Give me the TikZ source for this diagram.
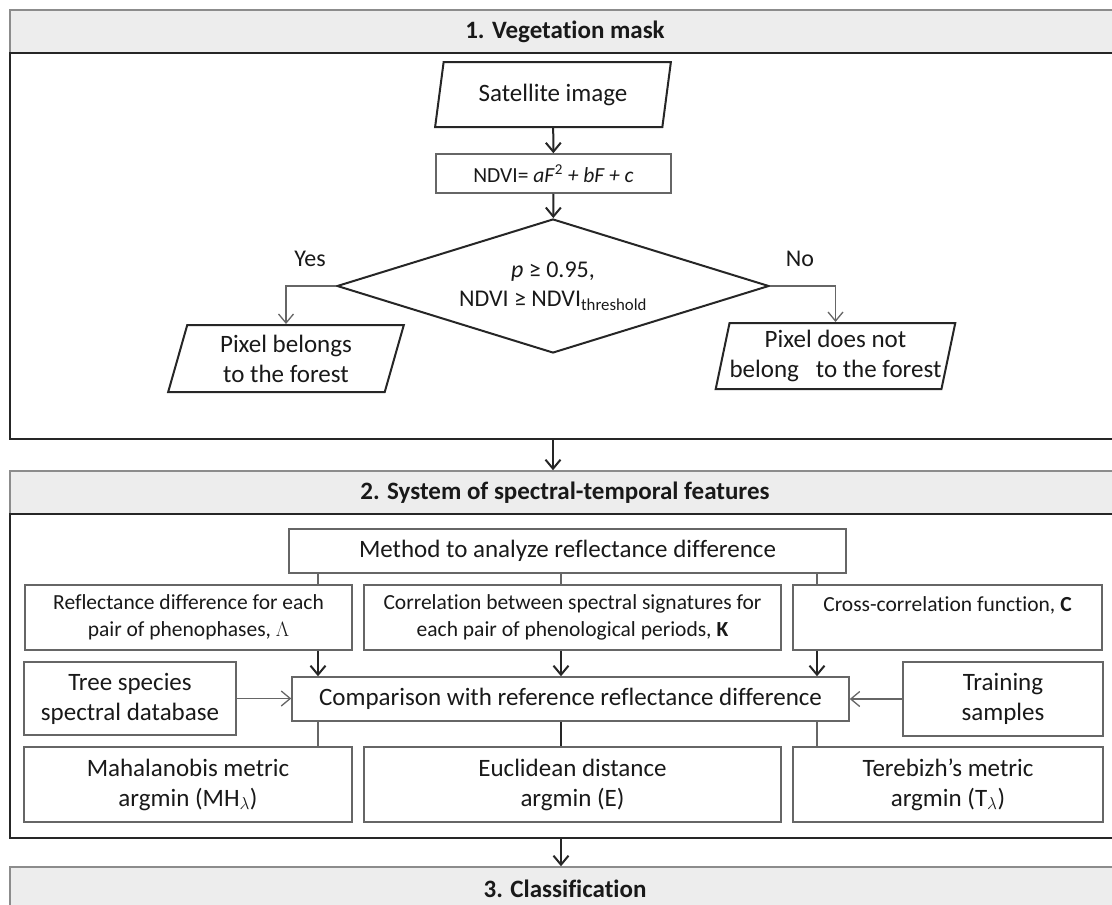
\documentclass[tikz,border=0pt]{standalone}
\usepackage{fontspec}
\setmainfont[Ligatures=NoCommon]{Carlito}
\usetikzlibrary{positioning, shapes.geometric, arrows, arrows.meta}

\begin{document}
\begin{tikzpicture}[x=1pt, y=-1pt,
    >={Straight Barb[length=9pt, width=15pt]},
    every node/.style={text=black!90},
    head/.style={draw=black!45, line width=1.5pt, fill=black!7, minimum width=1110pt, minimum height=43pt, inner sep=0pt, font=\fontsize{25}{30}\selectfont\bfseries},
    frame/.style={draw=black!85, line width=2pt, minimum width=1112pt, inner sep=0pt},
    box/.style={draw=black!60, line width=1.5pt, fill=white, align=center, inner sep=0pt, font=\fontsize{25}{30}\selectfont},
    smallbox/.style={box, font=\fontsize{21.5}{27}\selectfont},
    iobox/.style={box, draw=black!85, line width=2pt, trapezium, trapezium left angle=75, trapezium right angle=105, trapezium stretches=true},
    decision/.style={diamond, aspect=3.2, draw=black!85, line width=2pt, inner sep=0pt, align=center, font=\fontsize{24}{29}\selectfont},
    answer/.style={font=\fontsize{24}{29}\selectfont},
    flow/.style={draw=black!85, line width=2pt},
    feed/.style={draw=black!60, line width=1.3pt}
  ]
  \useasboundingbox (0, 0) rectangle (1112, 905);

  % 1. vegetation mask
  \node[head] (mask_head) at (565, 31.5) {1. Vegetation mask};
  \node[frame, minimum height=386pt] (mask_body) at (566, 246) {};

  \node[iobox, minimum width=236pt, minimum height=65pt] (sat) at (553, 94.5) {Satellite image};
  \node[smallbox, minimum width=235pt, minimum height=39pt] (ndvi) at (553.5, 173.5) {NDVI= \textit{aF}\textsuperscript{2} \textit{+ bF + c}};
  \node[decision, minimum width=432pt, minimum height=134pt] (cond) at (553, 286) {\textit{p} ≥ 0.95,\\ NDVI ≥ NDVI\textsubscript{threshold}};
  \node[answer] (yes) at (310, 259) {Yes};
  \node[answer] (no) at (800, 259) {No};
  \node[iobox, minimum width=236pt, minimum height=67pt] (forest) at (286, 358.5) {Pixel belongs\\ to the forest};
  \node[iobox, minimum width=235pt, minimum height=66pt] (nonforest) at (835.5, 356) {Pixel does not\\ belong\ \ \ to the forest};

  \draw[flow, ->] (sat) -- (ndvi);
  \draw[flow, ->] (ndvi) -- (cond);
  \draw[feed, ->] (cond.west) -| (forest.north);
  \draw[feed, ->] (cond.east) -| (nonforest.north);

  % 2. spectral-temporal features
  \node[head] (feat_head) at (565, 492.5) {2. System of spectral-temporal features};
  \node[frame, minimum height=324pt] (feat_body) at (566, 676) {};
  \draw[flow, ->] (mask_body.south -| cond.south) -- (feat_head.north -| cond.south);

  \coordinate (colA) at (318, 0);
  \coordinate (colB) at (561, 0);
  \coordinate (colC) at (817, 0);

  \node[box, minimum width=557pt, minimum height=44pt] (method) at (567.5, 551) {Method to analyze reflectance difference};
  \node[smallbox, minimum width=327pt, minimum height=65pt] (refl) at (188.5, 617.5) {Reflectance difference for each\\ pair of phenophases, $\Lambda$};
  \node[smallbox, minimum width=417pt, minimum height=65pt] (corr) at (572.5, 617.5) {Correlation between spectral signatures for\\ each pair of phenological periods, \textbf{K}};
  \node[smallbox, minimum width=309pt, minimum height=65pt] (cross) at (947.5, 617.5) {Cross-correlation function, \textbf{C}\\ \mbox{}};
  \node[box, minimum width=212pt, minimum height=73pt] (tree) at (130, 698.5) {Tree species\\ spectral database};
  \node[box, minimum width=557pt, minimum height=44pt] (compare) at (570.5, 699) {Comparison with reference reflectance difference};
  \node[box, minimum width=200pt, minimum height=74pt] (train) at (1003, 699) {Training\\ samples};
  \node[box, minimum width=328pt, minimum height=75pt] (mahal) at (188, 784.5) {Mahalanobis metric\\ argmin ($\mathrm{MH}_{\lambda}$)};
  \node[box, minimum width=417pt, minimum height=75pt] (euclid) at (572.5, 784.5) {Euclidean distance\\ argmin (E)};
  \node[box, minimum width=310pt, minimum height=75pt] (tereb) at (948, 784.5) {Terebizh’s metric\\ argmin ($\mathrm{T}_{\lambda}$)};

  \draw[feed] (method.south -| colA) -- (refl.north -| colA);
  \draw[feed] (method.south -| colB) -- (corr.north -| colB);
  \draw[feed] (method.south -| colC) -- (cross.north -| colC);
  \draw[flow, ->] (refl.south -| colA) -- (compare.north -| colA);
  \draw[flow, ->] (corr.south -| colB) -- (compare.north -| colB);
  \draw[flow, ->] (cross.south -| colC) -- (compare.north -| colC);
  \draw[feed, ->] (tree.east) -- (tree.east -| compare.west);
  \draw[feed, ->] (train.west) -- (train.west -| compare.east);
  \draw[feed] (compare.south -| colA) -- (mahal.north -| colA);
  \draw[flow] (compare.south -| colB) -- (euclid.north -| colB);
  \draw[feed] (compare.south -| colC) -- (tereb.north -| colC);

  % 3. classification
  \node[head] (class_head) at (565, 888.5) {3. Classification};
  \draw[flow, ->] (feat_body.south -| colB) -- (class_head.north -| colB);
\end{tikzpicture}
\end{document}
